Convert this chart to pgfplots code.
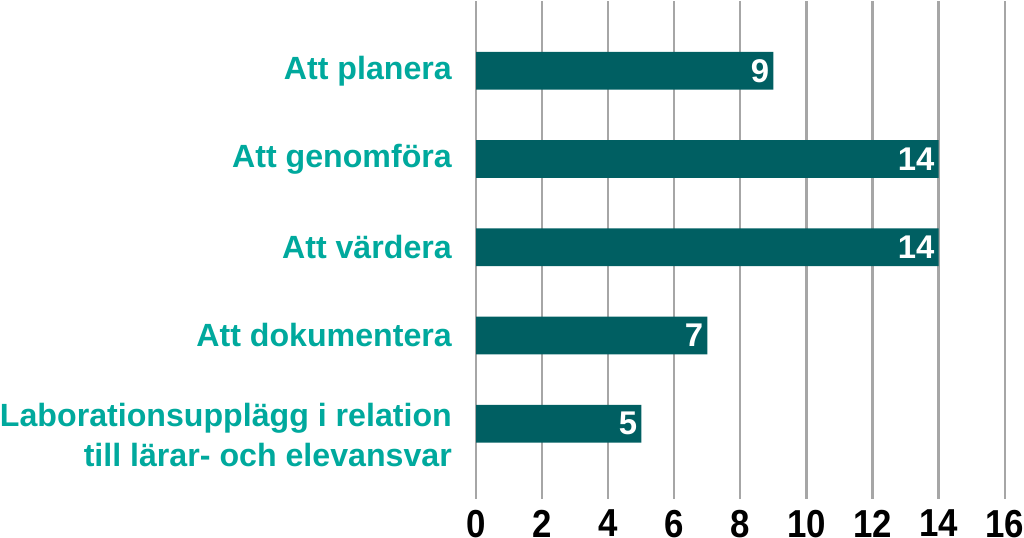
\documentclass[border=0pt]{standalone}
\usepackage{fontspec}
\setmainfont{Liberation Sans}
\usepackage{pgfplots}
\pgfplotsset{compat=1.18}
\definecolor{barteal}{HTML}{005F62}
\definecolor{labteal}{HTML}{00A99D}
\definecolor{gridgray}{HTML}{A6A6A6}

\begin{document}
\begin{tikzpicture}
  \begin{axis}[
    xbar,
    scale only axis,
    width=531pt, height=500pt,
    xmin=0, xmax=16,
    ymin=-0.85, ymax=4.79,
    xtick={0,2,...,16},
    xticklabel={\scalebox{1}[1.12]{\pgfmathprintnumber{\tick}}},
    ytick={1,2,3,4},
    yticklabels={{Att dokumentera},{Att värdera},{Att genomföra},{Att planera}},
    extra y ticks={-0.13},
    extra y tick labels={{Laborationsupplägg i relation\\till lärar- och elevansvar}},
    extra y tick style={grid=none},
    axis line style={draw=none},
    major tick style={draw=none},
    xmajorgrids=true,
    grid style={gridgray, line width=2.2pt},
    /pgf/number format/assume math mode=true,
    xticklabel style={font=\fontsize{35}{38}\selectfont\bfseries, black, inner sep=0pt, yshift=-11pt},
    yticklabel style={font=\fontsize{32.3}{40}\selectfont\bfseries, labteal, align=right, inner sep=0pt, xshift=-20pt},
    bar width=38pt,
    nodes near coords,
    every node near coord/.append style={anchor=east, white, inner sep=4pt,
      font=\fontsize{33}{36}\selectfont\bfseries},
  ]
    \addplot[fill=barteal, draw=none] coordinates {(5,0) (7,1) (14,2) (14,3) (9,4)};
  \end{axis}
\end{tikzpicture}
\end{document}
